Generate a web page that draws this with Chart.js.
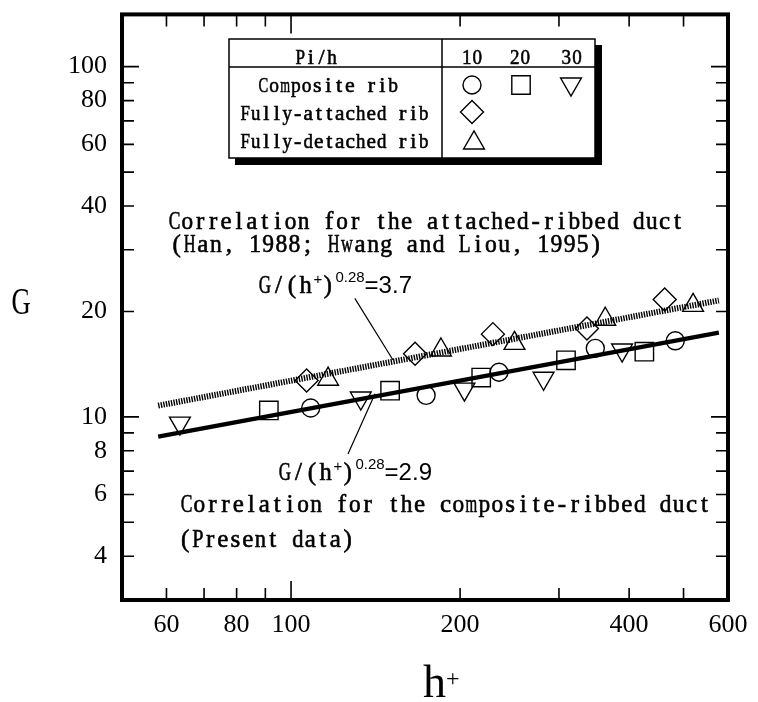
<!DOCTYPE html>
<html>
<head>
<meta charset="utf-8">
<script src="https://cdn.jsdelivr.net/npm/chart.js@4.4.1/dist/chart.umd.min.js"></script>
<style>
  html, body { margin: 0; padding: 0; background: #fff; }
  #wrap { width: 758px; height: 702px; }
</style>
</head>
<body>
<div id="wrap"><canvas id="chart" width="758" height="702"></canvas></div>
<script>
// h+ and G, one pair of arrays per marker type
const compositeP10H = [108.4, 174.0, 234.6, 348.2, 483.4];
const compositeP10G = [10.6, 11.52, 13.41, 15.69, 16.49];
const compositeP20H = [91.3, 150.1, 218.1, 308.8, 425.8];
const compositeP20G = [10.43, 11.88, 12.95, 14.50, 15.35];
const compositeP30H = [63.4, 133.1, 203.6, 281.6, 388.6];
const compositeP30G = [9.60, 11.32, 12.00, 12.89, 15.52];
const attachedH = [106.6, 166.3, 228.8, 336.5, 462.8];
const attachedG = [12.70, 15.15, 17.23, 17.87, 21.64];
const detachedH = [116.4, 184.9, 250.0, 362.7, 520.0];
const detachedG = [12.81, 15.52, 16.21, 19.0, 20.82];

// correlation lines (end points)
const attachedFitH = [58, 578];
const attachedFitG = [10.77, 21.5];
const compositeFitH = [58, 578];
const compositeFitG = [8.78, 17.4];

// axes
const xTickValues = [60, 70, 80, 90, 100, 200, 300, 400, 500, 600];
const xTickLabels = ['60', '', '80', '', '100', '200', '', '400', '', '600'];
const yTickValues = [4, 5, 6, 7, 8, 9, 10, 20, 30, 40, 50, 60, 70, 80, 90, 100];
const yTickLabels = ['4', '', '6', '', '8', '', '10', '20', '', '40', '', '60', '', '80', '', '100'];

const MONO_FONT = '"Liberation Serif", serif';

function pts(xs, ys) {
    return xs.map((x, i) => ({ x: x, y: ys[i] }));
}

// typewriter-like text: one char per fixed cell
function monoText(ctx, str, x, baseline, adv, size) {
    ctx.save();
    ctx.font = size + 'px ' + MONO_FONT;
    ctx.textAlign = 'center';
    ctx.textBaseline = 'alphabetic';
    ctx.fillStyle = '#000';
    ctx.strokeStyle = '#000';
    ctx.lineWidth = 0.6;
    for (let i = 0; i < str.length; i++) {
        const ch = str[i];
        if (ch === ' ') continue;
        const w = ctx.measureText(ch).width;
        const maxW = adv * 0.9;
        ctx.save();
        ctx.translate(x + adv * i + adv / 2, baseline);
        if (w > maxW) ctx.scale(maxW / w, 1);
        ctx.fillText(ch, 0, 0);
        ctx.strokeText(ch, 0, 0);
        ctx.restore();
    }
    ctx.restore();
}

function formula(ctx, x, baseline, value) {
    monoText(ctx, 'G/(h', x, baseline, 13.6, 25);
    let cx = x + 13.6 * 4;
    ctx.save();
    ctx.fillStyle = '#000';
    ctx.textAlign = 'left';
    ctx.textBaseline = 'alphabetic';
    ctx.font = '15px "Liberation Sans"';
    ctx.fillText('+', cx + 1, baseline - 9);
    cx += 11;
    monoText(ctx, ')', cx, baseline, 9, 25);
    cx += 12;
    ctx.font = '15px "Liberation Sans"';
    ctx.fillText('0.28', cx, baseline - 11);
    cx += ctx.measureText('0.28').width;
    ctx.font = '24px "Liberation Sans"';
    ctx.fillText('=' + value, cx, baseline);
    ctx.restore();
}

function symbol(ctx, kind, x, y) {
    ctx.beginPath();
    if (kind === 'circle') {
        ctx.arc(x, y, 9, 0, Math.PI * 2);
    } else if (kind === 'square') {
        ctx.rect(x - 9.2, y - 9.2, 18.4, 18.4);
    } else if (kind === 'down') {
        ctx.moveTo(x - 10.4, y - 6);
        ctx.lineTo(x + 10.4, y - 6);
        ctx.lineTo(x, y + 12);
        ctx.closePath();
    } else if (kind === 'up') {
        ctx.moveTo(x - 10.4, y + 6);
        ctx.lineTo(x + 10.4, y + 6);
        ctx.lineTo(x, y - 12);
        ctx.closePath();
    } else if (kind === 'diamond') {
        ctx.moveTo(x, y - 11.5);
        ctx.lineTo(x + 11.5, y);
        ctx.lineTo(x, y + 11.5);
        ctx.lineTo(x - 11.5, y);
        ctx.closePath();
    }
    ctx.stroke();
}

const decorPlugin = {
    id: 'decor',
    afterDraw(chart) {
        const ctx = chart.ctx;
        const a = chart.chartArea;
        const xs = chart.scales.x;
        const ys = chart.scales.y;
        ctx.save();
        ctx.strokeStyle = '#000';
        ctx.fillStyle = '#000';

        // inward tick marks on all four sides
        ctx.lineWidth = 1.6;
        ctx.beginPath();
        xTickValues.forEach(v => {
            if (v >= 600) return;
            const px = xs.getPixelForValue(v);
            const len = v === 100 ? 19 : 12;
            ctx.moveTo(px, a.bottom); ctx.lineTo(px, a.bottom - len);
            ctx.moveTo(px, a.top); ctx.lineTo(px, a.top + len);
        });
        yTickValues.forEach(v => {
            const py = ys.getPixelForValue(v);
            const len = (v === 10 || v === 100) ? 17 : 12;
            ctx.moveTo(a.left, py); ctx.lineTo(a.left + len, py);
            ctx.moveTo(a.right, py); ctx.lineTo(a.right - len, py);
        });
        ctx.stroke();

        // frame
        ctx.lineWidth = 4;
        ctx.strokeRect(a.left, a.top, a.right - a.left, a.bottom - a.top);

        // legend table
        const L = 229, T = 39, R = 595, B = 158, mid = 442, hdr = 67;
        ctx.fillRect(R, T + 6, 7, B - T + 1);
        ctx.fillRect(L + 6, B, R - L + 1, 7);
        ctx.lineWidth = 1.5;
        ctx.strokeRect(L, T, R - L, B - T);
        ctx.beginPath();
        ctx.moveTo(L, hdr); ctx.lineTo(R, hdr);
        ctx.moveTo(mid, T); ctx.lineTo(mid, B);
        ctx.stroke();

        monoText(ctx, 'Pi/h', 295, 64, 10.6, 22);
        monoText(ctx, '10', 461.4, 64, 10.6, 22);
        monoText(ctx, '20', 509.4, 64, 10.6, 22);
        monoText(ctx, '30', 561, 64, 10.6, 22);
        monoText(ctx, 'Composite rib', 258, 92, 10.8, 22);
        monoText(ctx, 'Fully-attached rib', 240, 120, 10.5, 22);
        monoText(ctx, 'Fully-detached rib', 240, 148, 10.5, 22);

        ctx.lineWidth = 1.4;
        symbol(ctx, 'circle', 472, 85);
        symbol(ctx, 'square', 521, 85);
        symbol(ctx, 'down', 571, 84);
        symbol(ctx, 'diamond', 472, 112);
        symbol(ctx, 'up', 474, 143);

        // annotations
        monoText(ctx, 'Correlation for the attached-ribbed duct', 168, 229, 12.9, 25);
        monoText(ctx, '(Han, 1988; Hwang and Liou, 1995)', 170, 252, 13.1, 25);
        formula(ctx, 258, 293, '3.7');
        formula(ctx, 278, 480, '2.9');
        monoText(ctx, 'Correlation for the composite-ribbed duct', 180, 512, 12.95, 25);
        monoText(ctx, '(Present data)', 179, 547, 12.5, 25);

        // leader lines, anchored in data space
        const leaders = [
            [129.9, 21.8, 151.9, 14.54],
            [141.1, 11.65, 126.3, 7.83]
        ];
        ctx.lineWidth = 1.2;
        ctx.beginPath();
        leaders.forEach(l => {
            ctx.moveTo(xs.getPixelForValue(l[0]), ys.getPixelForValue(l[1]));
            ctx.lineTo(xs.getPixelForValue(l[2]), ys.getPixelForValue(l[3]));
        });
        ctx.stroke();

        // axis titles
        ctx.textBaseline = 'alphabetic';
        ctx.textAlign = 'center';
        ctx.save();
        ctx.translate(21, 314);
        ctx.scale(0.7, 1);
        ctx.font = '38px "Liberation Serif"';
        ctx.fillText('G', 0, 0);
        ctx.restore();

        ctx.textAlign = 'left';
        ctx.font = '46px "Liberation Serif"';
        ctx.fillText('h', 423, 697);
        ctx.font = '24px "Liberation Serif"';
        ctx.fillText('+', 446, 686);

        ctx.restore();
    }
};

const markerBase = {
    borderColor: '#000',
    backgroundColor: 'rgba(0,0,0,0)',
    borderWidth: 1.4
};

new Chart(document.getElementById('chart'), {
    type: 'scatter',
    data: {
        datasets: [
            {
                type: 'line',
                label: 'G/(h+)^0.28=3.7',
                data: pts(attachedFitH, attachedFitG),
                showLine: true,
                borderColor: '#000',
                borderWidth: 6,
                borderDash: [1.4, 1.2],
                borderCapStyle: 'butt',
                pointRadius: 0,
                fill: false
            },
            {
                type: 'line',
                label: 'G/(h+)^0.28=2.9',
                data: pts(compositeFitH, compositeFitG),
                showLine: true,
                borderColor: '#000',
                borderWidth: 4.2,
                pointRadius: 0,
                fill: false
            },
            Object.assign({ label: 'Composite rib, Pi/h=10', data: pts(compositeP10H, compositeP10G),
                pointStyle: 'circle', pointRadius: 9 }, markerBase),
            Object.assign({ label: 'Composite rib, Pi/h=20', data: pts(compositeP20H, compositeP20G),
                pointStyle: 'rect', pointRadius: 13 }, markerBase),
            Object.assign({ label: 'Composite rib, Pi/h=30', data: pts(compositeP30H, compositeP30G),
                pointStyle: 'triangle', rotation: 180, pointRadius: 12 }, markerBase),
            Object.assign({ label: 'Fully-attached rib', data: pts(attachedH, attachedG),
                pointStyle: 'rectRot', pointRadius: 11.5 }, markerBase),
            Object.assign({ label: 'Fully-detached rib', data: pts(detachedH, detachedG),
                pointStyle: 'triangle', pointRadius: 12 }, markerBase)
        ]
    },
    options: {
        responsive: false,
        animation: false,
        devicePixelRatio: 1,
        layout: { padding: { left: 0, top: 10, right: 30, bottom: 0 } },
        plugins: {
            legend: { display: false },
            tooltip: { enabled: false }
        },
        scales: {
            x: {
                type: 'logarithmic',
                min: 50,
                max: 600,
                grid: { display: false, drawTicks: false },
                border: { display: false },
                afterBuildTicks: s => { s.ticks = xTickValues.map(v => ({ value: v })); },
                afterFit: s => { s.height = 102; s.paddingLeft = 0; s.paddingRight = 0; },
                ticks: {
                    autoSkip: false,
                    maxRotation: 0,
                    padding: 10,
                    color: '#000',
                    font: { family: 'Liberation Serif', size: 26 },
                    callback: v => {
                        const i = xTickValues.indexOf(v);
                        return i >= 0 ? xTickLabels[i] : '';
                    }
                }
            },
            y: {
                type: 'logarithmic',
                min: 3,
                max: 141,
                grid: { display: false, drawTicks: false },
                border: { display: false },
                afterBuildTicks: s => { s.ticks = yTickValues.map(v => ({ value: v })); },
                afterFit: s => { s.width = 122; s.paddingTop = 0; s.paddingBottom = 0; },
                ticks: {
                    autoSkip: false,
                    padding: 15,
                    color: '#000',
                    font: { family: 'Liberation Serif', size: 26 },
                    callback: v => {
                        const i = yTickValues.indexOf(v);
                        return i >= 0 ? yTickLabels[i] : '';
                    }
                }
            }
        }
    },
    plugins: [decorPlugin]
});
</script>
</body>
</html>
